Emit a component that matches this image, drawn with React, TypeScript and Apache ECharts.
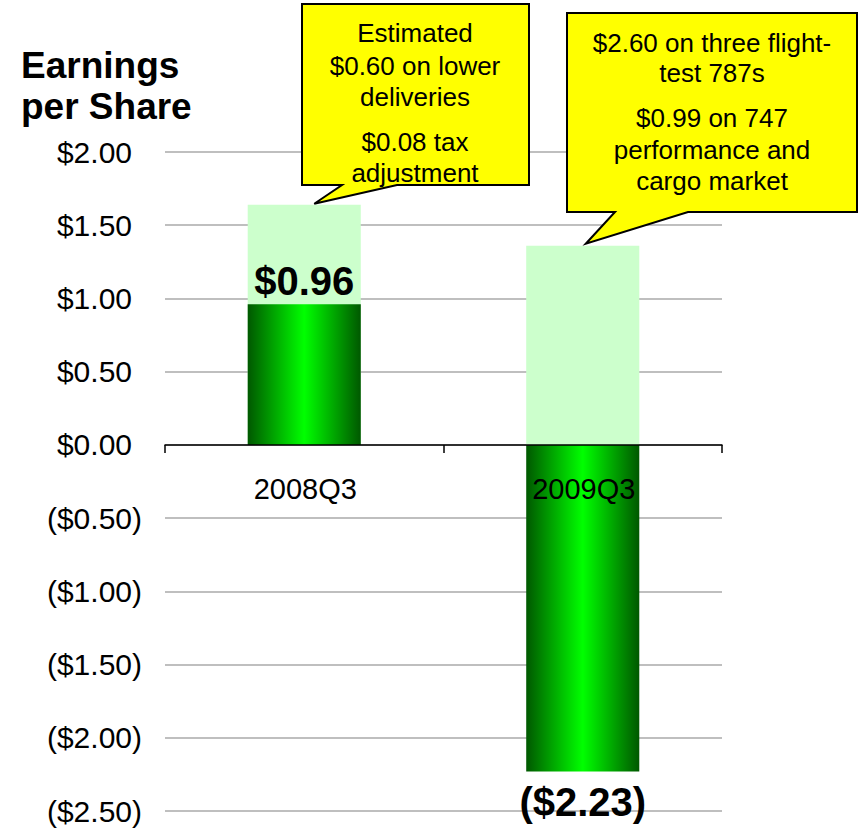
import React, { useEffect, useRef } from "react";
import * as echarts from "echarts";

const categories = ["2008Q3", "2009Q3"];
const reportedEps = [0.96, -2.23];
const epsExcludingCharges = [1.64, 1.36];
const reportedLabels = ["$0.96", "($2.23)"];
const yMin = -2.5;
const yMax = 2.0;
const yInterval = 0.5;
const callout2008 = ["Estimated", "$0.60 on lower", "deliveries", "$0.08 tax", "adjustment"];
const callout2009 = ["$2.60 on three flight-", "test 787s", "$0.99 on 747", "performance and", "cargo market"];

const FONT = '"Liberation Sans", Arial, sans-serif';

export default function App() {
  const ref = useRef<HTMLDivElement>(null);
  useEffect(() => {
    document.body.style.margin = "0";
    const chart = echarts.init(ref.current!, null, { renderer: "svg" });
    const gradient = new echarts.graphic.LinearGradient(0, 0, 1, 0, [
      { offset: 0, color: "#005800" },
      { offset: 0.5, color: "#00ff00" },
      { offset: 1, color: "#005800" },
    ]);
    const fmt = (v: number) =>
      v < 0 ? `($${Math.abs(v).toFixed(2)})` : `$${v.toFixed(2)}{p|)}`;

    const textEl = (txt: string, x: number, y: number, size = 26, z = 12) => ({
      type: "text",
      x,
      y,
      z,
      style: {
        text: txt,
        fill: "#000",
        font: `${size}px ${FONT}`,
        textAlign: "center",
        textVerticalAlign: "middle",
      },
    });

    const box1Y = [33, 66, 97, 142, 173];
    const box2Y = [43, 73, 118, 150, 181];

    chart.setOption({
      animation: false,
      textStyle: { fontFamily: FONT },
      grid: { left: 165, right: 139, top: 152, bottom: 22, outerBoundsMode: "none", containLabel: false },
      xAxis: {
        type: "category",
        data: categories,
        z: 3,
        axisLine: { show: true, onZero: true, lineStyle: { color: "#000", width: 1.5 } },
        axisTick: { show: true, length: 8, lineStyle: { color: "#000", width: 1.5 } },
        axisLabel: { show: false },
        splitLine: { show: false },
      },
      yAxis: {
        type: "value",
        min: yMin,
        max: yMax,
        interval: yInterval,
        axisLine: { show: false },
        axisTick: { show: false },
        splitLine: { show: true, lineStyle: { color: "#bfbfbf", width: 2 } },
        axisLabel: {
          color: "#000",
          fontSize: 30,
          margin: 23,
          fontFamily: FONT,
          formatter: fmt,
          rich: { p: { color: "rgba(0,0,0,0)", fontSize: 30, fontFamily: FONT } },
        },
      },
      series: [
        {
          type: "bar",
          data: epsExcludingCharges,
          barWidth: "40.6%",
          barGap: "-100%",
          itemStyle: { color: "#ccffcc" },
          silent: true,
        },
        {
          type: "bar",
          data: reportedEps.map((v, i) => ({
            value: v,
            label: {
              show: true,
              position: v >= 0 ? "top" : "bottom",
              distance: v >= 0 ? 3 : 11,
              formatter: reportedLabels[i],
              fontSize: 40,
              fontWeight: "bold",
              color: "#000",
              fontFamily: FONT,
            },
          })),
          barWidth: "40.6%",
          barGap: "-100%",
          itemStyle: { color: gradient },
        },
      ],
    });

    const tip1 = chart.convertToPixel({ gridIndex: 0 }, [0, epsExcludingCharges[0]]) as number[];
    const tip2 = chart.convertToPixel({ gridIndex: 0 }, [1, epsExcludingCharges[1]]) as number[];
    const t1x = tip1[0] + 10;
    const t1y = tip1[1] - 1;
    const t2x = tip2[0] + 3;
    const t2y = tip2[1] - 2;

    const catLabels = categories.map((c, i) => {
      const p = chart.convertToPixel({ gridIndex: 0 }, [i, 0]) as number[];
      return textEl(c, p[0] + 1, p[1] + 44, 29, 20);
    });

    chart.setOption({
      graphic: [
        {
          type: "text",
          left: 21,
          top: 45,
          z: 12,
          style: {
            text: "Earnings\nper Share",
            fill: "#000",
            font: `bold 37px ${FONT}`,
            lineHeight: 41,
          },
        },
        ...catLabels,
        {
          type: "polygon",
          z: 11,
          shape: {
            points: [
              [302, 4], [529, 4], [529, 185], [397, 185], [t1x, t1y], [342, 185], [302, 185],
            ],
          },
          style: { fill: "#ffff00", stroke: "#000", lineWidth: 2 },
        },
        ...callout2008.map((t, i) => textEl(t, 415, box1Y[i])),
        {
          type: "polygon",
          z: 11,
          shape: {
            points: [
              [567, 13], [857, 13], [857, 212], [688, 212], [t2x, t2y], [615, 212], [567, 212],
            ],
          },
          style: { fill: "#ffff00", stroke: "#000", lineWidth: 2 },
        },
        ...callout2009.map((t, i) => textEl(t, 712, box2Y[i])),
      ],
    });

    return () => chart.dispose();
  }, []);
  return <div ref={ref} style={{ width: 861, height: 833 }} />;
}
